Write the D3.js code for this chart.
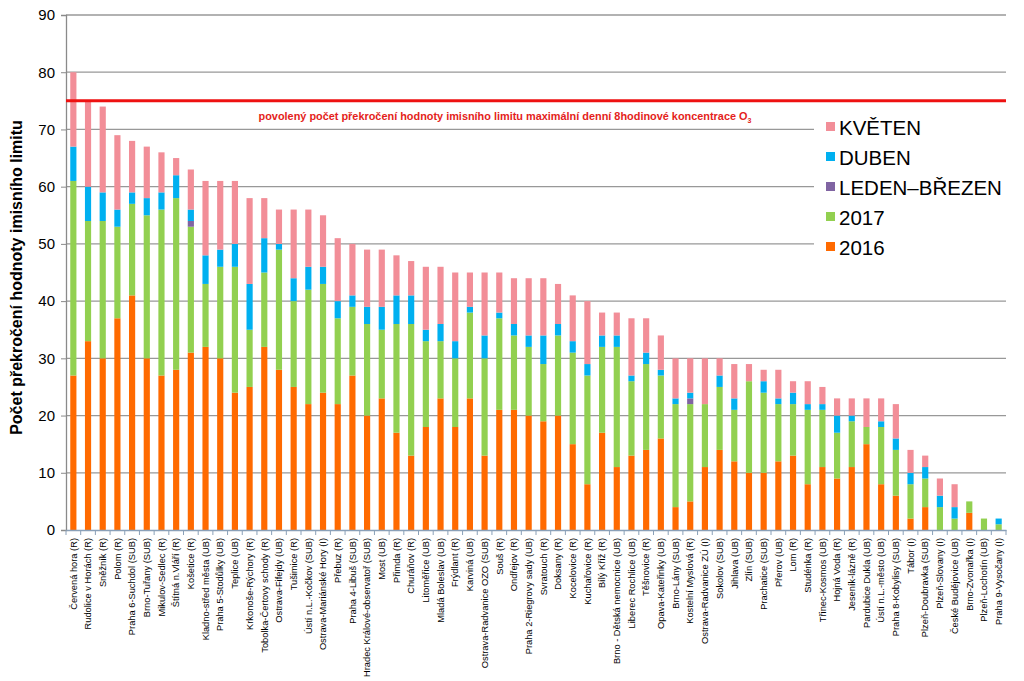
<!DOCTYPE html>
<html><head><meta charset="utf-8">
<script src="https://cdn.jsdelivr.net/npm/d3@7"></script>
<style>body{margin:0;background:#fff;} svg{display:block;font-family:"Liberation Sans",Arial,sans-serif;}</style>
</head><body>
<svg id="c" width="1024" height="681"></svg>
<script>
const stations = ["Červená hora (R)","Rudolice v Horách (R)","Sněžník (R)","Polom (R)","Praha 6-Suchdol (SUB)","Brno-Tuřany (SUB)","Mikulov-Sedlec (R)","Štítná n.Vláří (R)","Košetice (R)","Kladno-střed města (UB)","Praha 5-Stodůlky (UB)","Teplice (UB)","Krkonoše-Rýchory (R)","Tobolka-Čertovy schody (R)","Ostrava-Fifejdy (UB)","Tušimice (R)","Ústí n.L.-Kočkov (SUB)","Ostrava-Mariánské Hory (I)","Přebuz (R)","Praha 4-Libuš (SUB)","Hradec Králové-observatoř (SUB)","Most (UB)","Přimda (R)","Churáňov (R)","Litoměřice (UB)","Mladá Boleslav (UB)","Frýdlant (R)","Karviná (UB)","Ostrava-Radvanice OZO (SUB)","Souš (R)","Ondřejov (R)","Praha 2-Riegrovy sady (UB)","Svratouch (R)","Doksany (R)","Kocelovice (R)","Kuchařovice (R)","Bílý Kříž (R)","Brno - Dětská nemocnice (UB)","Liberec Rochlice (UB)","Těšnovice (R)","Opava-Kateřinky (UB)","Brno-Lány (SUB)","Kostelní Myslová (R)","Ostrava-Radvanice ZÚ (I)","Sokolov (SUB)","Jihlava (UB)","Zlín (SUB)","Prachatice (SUB)","Přerov (UB)","Lom (R)","Studénka (R)","Třinec-Kosmos (UB)","Hojná Voda (R)","Jeseník-lázně (R)","Pardubice Dukla (UB)","Ústí n.L.-město (UB)","Praha 8-Kobylisy (SUB)","Tábor (I)","Plzeň-Doubravka (SUB)","Plzeň-Slovany (I)","České Budějovice (UB)","Brno-Zvonařka (I)","Plzeň-Lochotín (UB)","Praha 9-Vysočany (I)"];

const y2016 = [27,33,30,37,41,30,27,28,31,32,30,24,25,32,28,25,22,24,22,27,20,23,17,13,18,23,18,23,13,21,21,20,19,20,15,8,17,11,13,14,16,4,5,11,14,12,10,10,12,13,8,11,9,11,15,8,6,2,4,0,0,3,0,0];
const y2017 = [34,21,24,16,16,25,29,30,22,11,16,22,10,13,21,15,20,19,15,12,16,12,19,23,15,10,12,15,17,16,13,12,10,14,16,19,15,21,13,15,11,18,17,11,11,9,16,14,10,9,13,10,8,8,3,10,8,6,5,4,2,2,2,1];
const ledenBrezen = [0,0,0,0,0,0,0,0,1,0,0,0,0,0,0,0,0,0,0,0,0,0,0,0,0,0,0,0,0,0,0,0,0,0,0,0,0,0,0,0,0,0,1,0,0,0,0,0,0,0,0,0,0,0,0,0,0,0,0,0,0,0,0,0];
const duben = [6,6,5,3,2,3,3,4,2,5,3,4,8,6,1,4,4,3,3,2,3,4,5,5,2,3,3,1,4,1,2,2,5,2,2,2,2,2,1,2,1,1,1,0,2,2,0,2,1,2,1,1,3,1,0,1,2,2,2,2,2,0,0,1];
const kveten = [13,15,15,13,9,9,7,3,7,13,12,11,15,7,6,12,10,9,11,9,10,10,7,6,11,10,12,6,11,7,8,10,10,7,8,11,4,4,10,6,6,7,6,8,3,6,3,2,5,2,4,3,3,3,5,4,6,4,2,3,4,0,0,0];

const seriesNames = ["2016","2017","LEDEN–BŘEZEN","DUBEN","KVĚTEN"];
const seriesColors = ["#FF6A00","#92D050","#8064A2","#00B0F0","#F28E98"];
const yTicks = [0,10,20,30,40,50,60,70,80,90];
const limitValue = 75;
const yTitle = "Počet překročení hodnoty imisního limitu";
const limitText = "povolený počet překročení hodnoty imisního limitu maximální denní 8hodinové koncentrace O";

const rows = stations.map((s,i)=>({station:s,"2016":y2016[i],"2017":y2017[i],"LEDEN–BŘEZEN":ledenBrezen[i],"DUBEN":duben[i],"KVĚTEN":kveten[i]}));
const stack = d3.stack().keys(seriesNames)(rows);

const svg = d3.select("#c");
const L=66,R=1006,T=15,B=530;
const x = d3.scaleBand().domain(stations).range([L,R]).paddingInner(0.58).paddingOuter(0.29);
const y = d3.scaleLinear().domain([0,90]).range([B,T]);

// gridlines
svg.append("g").selectAll("line").data(yTicks.filter(d=>d>0)).join("line")
  .attr("x1",L).attr("x2",R).attr("y1",d=>y(d)).attr("y2",d=>y(d))
  .attr("stroke","#989898").attr("stroke-width",1.3);

// bars
svg.append("g").selectAll("g").data(stack).join("g")
  .attr("fill",(d,i)=>seriesColors[i])
  .selectAll("rect").data(d=>d).join("rect")
  .attr("x",d=>x(d.data.station)).attr("width",x.bandwidth())
  .attr("y",d=>y(d[1])).attr("height",d=>Math.max(0,y(d[0])-y(d[1])));

// y axis
const ya = svg.append("g").attr("transform",`translate(${L},0)`)
  .call(d3.axisLeft(y).tickValues(yTicks).tickSize(5).tickPadding(6));
ya.select(".domain").attr("stroke","#8a8a8a").attr("stroke-width",1.3);
ya.selectAll(".tick line").attr("stroke","#8a8a8a");
ya.selectAll("text").attr("font-size",15).attr("fill","#000").attr("font-family","Liberation Sans, Arial, sans-serif");

// x axis
const xa = svg.append("g").attr("transform",`translate(0,${B})`)
  .call(d3.axisBottom(x).tickSize(0).tickPadding(0));
xa.select(".domain").attr("stroke","#8aa0b8").attr("stroke-width",1.3);
xa.selectAll(".tick text").attr("font-size",9.3).attr("fill","#000")
  .attr("font-family","Liberation Sans, Arial, sans-serif")
  .attr("transform","rotate(-90)").attr("text-anchor","end")
  .attr("x",-8).attr("y",0).attr("dy","0.35em");
// separator ticks between categories
svg.append("g").selectAll("line").data(d3.range(stations.length+1)).join("line")
  .attr("x1",i=>L+i*x.step()).attr("x2",i=>L+i*x.step())
  .attr("y1",B).attr("y2",B+5).attr("stroke","#8aa0b8");

// y title
svg.append("text").attr("transform",`translate(22,${(T+B)/2+5}) rotate(-90)`)
  .attr("text-anchor","middle").attr("font-size",16).attr("font-weight","bold")
  .attr("font-family","Liberation Sans, Arial, sans-serif").text(yTitle);

// legend background
svg.append("rect").attr("x",814).attr("y",108).attr("width",200).attr("height",160).attr("fill","#fff");
const leg = svg.append("g");
const legOrder = [4,3,2,1,0];
legOrder.forEach((si,k)=>{
  const yy = 127 + k*30;
  leg.append("rect").attr("x",826).attr("y",yy-5).attr("width",9).attr("height",9).attr("fill",seriesColors[si]);
  leg.append("text").attr("x",839).attr("y",yy+7.5).attr("font-size",20.5)
    .attr("font-family","Liberation Sans, Arial, sans-serif").text(seriesNames[si]);
});

// limit line
svg.append("line").attr("x1",L).attr("x2",R).attr("y1",y(limitValue)).attr("y2",y(limitValue))
  .attr("stroke","#EE1111").attr("stroke-width",3);
const lt = svg.append("text").attr("x",505).attr("y",120).attr("text-anchor","middle")
  .attr("font-size",10.9).attr("font-weight","bold").attr("fill","#E41E20")
  .attr("font-family","Liberation Sans, Arial, sans-serif");
lt.append("tspan").text(limitText);
lt.append("tspan").attr("font-size",7).attr("dy",3).text("3");
</script>
</body></html>
